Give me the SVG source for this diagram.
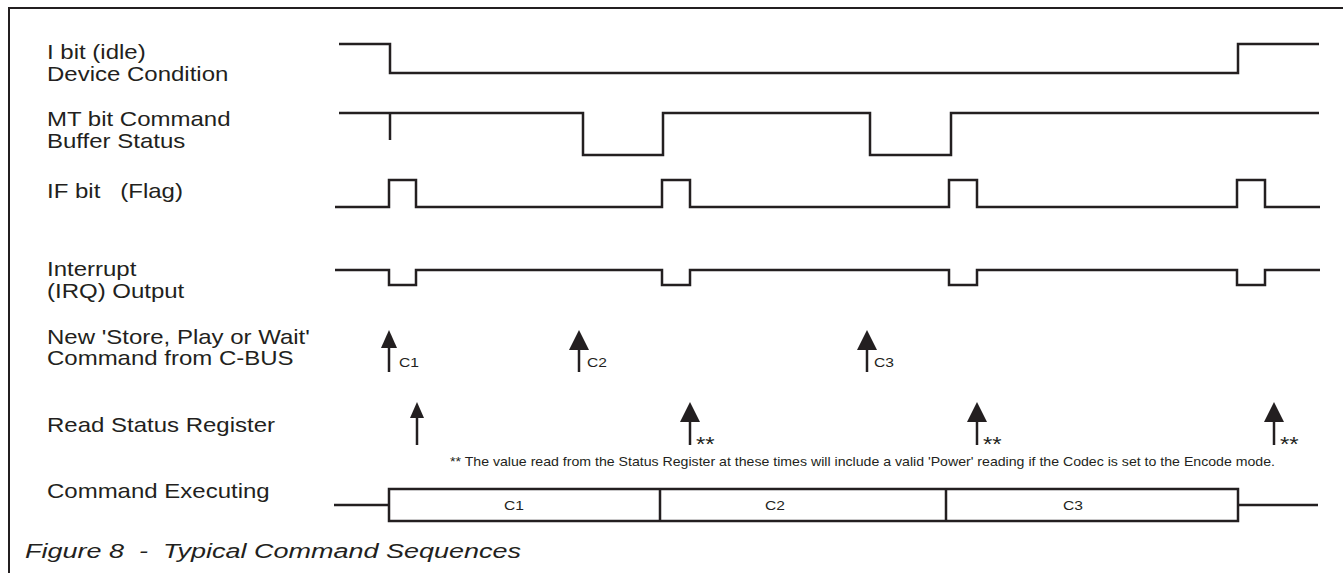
<svg xmlns="http://www.w3.org/2000/svg" width="1343" height="573" viewBox="0 0 1343 573">
<style>
.sig{fill:none;stroke:#231f20;stroke-width:2.5;stroke-linejoin:miter;stroke-linecap:butt}
.frame{fill:none;stroke:#231f20;stroke-width:2}
.lbl{font-family:"Liberation Sans",Arial,sans-serif;font-size:20px;fill:#231f20}
.sm{font-family:"Liberation Sans",Arial,sans-serif;font-size:13px;fill:#231f20}
.ast{font-family:"Liberation Sans",Arial,sans-serif;font-size:20px;fill:#231f20}
.head{fill:#231f20}
</style>
<rect width="1343" height="573" fill="#fff"/>
<path class="frame" d="M9,573 V8 H1343"/>

<g id="labels">
<text class="lbl" transform="translate(47,59) scale(1.2,1)">I bit (idle)</text>
<text class="lbl" transform="translate(47,81) scale(1.2,1)">Device Condition</text>
<text class="lbl" transform="translate(47,126) scale(1.2,1)">MT bit Command</text>
<text class="lbl" transform="translate(47,148) scale(1.2,1)">Buffer Status</text>
<text class="lbl" transform="translate(47,198) scale(1.2,1)" xml:space="preserve">IF bit   (Flag)</text>
<text class="lbl" transform="translate(47,276) scale(1.2,1)">Interrupt</text>
<text class="lbl" transform="translate(47,298) scale(1.2,1)">(IRQ) Output</text>
<text class="lbl" transform="translate(47,344) scale(1.2,1)">New 'Store, Play or Wait'</text>
<text class="lbl" transform="translate(47,365) scale(1.2,1)">Command from C-BUS</text>
<text class="lbl" transform="translate(47,432) scale(1.2,1)">Read Status Register</text>
<text class="lbl" transform="translate(47,498) scale(1.2,1)">Command Executing</text>
<text class="lbl" x="25" y="558" font-style="italic" font-size="22" textLength="496" lengthAdjust="spacingAndGlyphs" xml:space="preserve">Figure 8  -  Typical Command Sequences</text>
</g>

<g id="signals">
<g id="i-bit"><path class="sig" d="M339,44 H390 V73 H1238 V44 H1319"/></g>
<g id="mt-bit"><path class="sig" d="M339,113 H583 V155 H663 V113 H870 V155 H951 V113 H1319"/><path class="sig" d="M390,113 V140"/></g>
<g id="if-bit"><path class="sig" d="M335,207 H389 V180 H416 V207 H662 V180 H690 V207 H949 V180 H977 V207 H1237 V180 H1265 V207 H1320"/></g>
<g id="irq"><path class="sig" d="M335,270 H389 V285 H416 V270 H662 V285 H690 V270 H949 V285 H977 V270 H1237 V285 H1265 V270 H1320"/></g>
</g>

<g id="connectors">
<g id="cmd-c1"><path class="sig" d="M389,372 V345"/><polygon class="head" points="389,330 397,348 381,348"/><text class="sm" transform="translate(399,367) scale(1.2,1)">C1</text></g>
<g id="cmd-c2"><path class="sig" d="M579,372 V345"/><polygon class="head" points="579,330 589,350 569,350"/><text class="sm" transform="translate(587,367) scale(1.2,1)">C2</text></g>
<g id="cmd-c3"><path class="sig" d="M867,372 V345"/><polygon class="head" points="867,330 877,350 857,350"/><text class="sm" transform="translate(874,367) scale(1.2,1)">C3</text></g>
<g id="rd-1"><path class="sig" d="M417,445 V414"/><polygon class="head" points="417,402 424,418 410,418"/></g>
<g id="rd-2"><path class="sig" d="M690,445 V418"/><polygon class="head" points="690,402 700,422 680,422"/><text class="ast" transform="translate(696,451) scale(1.2,1)">**</text></g>
<g id="rd-3"><path class="sig" d="M977,445 V418"/><polygon class="head" points="977,402 987,422 967,422"/><text class="ast" transform="translate(983,451) scale(1.2,1)">**</text></g>
<g id="rd-4"><path class="sig" d="M1274,445 V418"/><polygon class="head" points="1274,402 1284,422 1264,422"/><text class="ast" transform="translate(1280,451) scale(1.2,1)">**</text></g>
</g>

<g id="footnote">
<text class="sm" x="450" y="466" font-size="11" textLength="825" lengthAdjust="spacingAndGlyphs">** The value read from the Status Register at these times will include a valid 'Power' reading if the Codec is set to the Encode mode.</text>
</g>

<g id="cmd-exec">
<path class="sig" d="M334,505 H389 M1238,505 H1318"/>
<rect class="sig" x="389" y="489" width="849" height="32"/>
<path class="sig" d="M660,489 V521 M946,489 V521"/>
<text class="sm" transform="translate(514,510) scale(1.2,1)" text-anchor="middle">C1</text>
<text class="sm" transform="translate(775,510) scale(1.2,1)" text-anchor="middle">C2</text>
<text class="sm" transform="translate(1073,510) scale(1.2,1)" text-anchor="middle">C3</text>
</g>
</svg>
